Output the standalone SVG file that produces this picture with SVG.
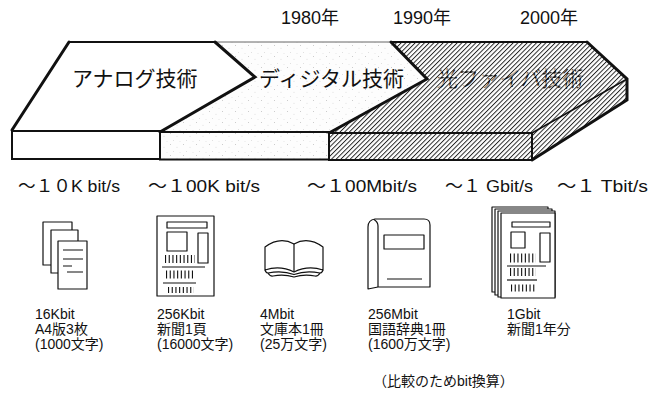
<svg xmlns="http://www.w3.org/2000/svg" width="657" height="393" viewBox="0 0 657 393">
  <style>
    .t { font-family: "Liberation Sans", "Noto Sans CJK JP", sans-serif; fill: #111; }
    .jp { font-family: "Noto Sans CJK JP", sans-serif; fill: #111; }
    .yr { font-size: 18px; }
    .sp { font-size: 17px; }
    .big { font-size: 21px; }
    .cap { font-size: 14px; }
    .ic { fill: #fff; stroke: #111; stroke-width: 1.2; stroke-linejoin: round; }
    .ln { fill: none; stroke: #111; stroke-width: 1.2; }
    .bars { fill: none; stroke: #111; stroke-dasharray: 1.1 2.6; }
    .thick { fill: none; stroke: #111; stroke-width: 3; stroke-linejoin: miter; stroke-linecap: round; }
    .mid { fill: none; stroke: #111; stroke-width: 2; stroke-linecap: round; }
    .thin { fill: none; stroke: #666; stroke-width: 1; }
  </style>
  <defs>
    <!-- diagonal hatch for the optical-fibre band -->
    <pattern id="hatch" patternUnits="userSpaceOnUse" width="3.3" height="10" patternTransform="rotate(45)">
      <rect width="3.3" height="10" fill="#fff"/>
      <rect width="0.95" height="10" fill="#222"/>
    </pattern>
    <!-- text ink broken by the hatch -->
    <pattern id="hatchInk" patternUnits="userSpaceOnUse" width="3.3" height="10" patternTransform="rotate(45)">
      <rect width="3.3" height="10" fill="#111"/>
      <rect x="2.2" width="0.9" height="10" fill="#fff"/>
    </pattern>
    <!-- light stipple for the digital band -->
    <pattern id="stipple" patternUnits="userSpaceOnUse" width="13" height="11">
      <rect width="13" height="11" fill="#fdfdfd"/>
      <circle cx="1.5" cy="1.5" r="0.45" fill="#999"/>
      <circle cx="8" cy="4.2" r="0.4" fill="#aaa"/>
      <circle cx="4.5" cy="8.6" r="0.4" fill="#aaa"/>
      <circle cx="11" cy="9.3" r="0.35" fill="#bbb"/>
    </pattern>
  </defs>

  <!-- year axis -->
  <g id="years">
    <text class="t yr" x="281" y="24">1980年</text>
    <text class="t yr" x="393" y="24">1990年</text>
    <text class="t yr" x="520" y="24">2000年</text>
  </g>

  <!-- technology band (3D slab) -->
  <g id="band-fibre">
    <polygon points="329,133 427,79 391,42 587,42 627,79 532,133" fill="url(#hatch)"/>
    <polygon points="532,133 627,79 627,100 532,160" fill="url(#hatch)"/>
    <rect x="329" y="133" width="203" height="27" fill="url(#hatch)" stroke="#111" stroke-width="2"/>
    <line x1="532" y1="133" x2="627" y2="79" stroke="#111" stroke-width="1.5"/>
    <polyline class="mid" points="391,42 587,42"/>
    <polyline class="thick" points="587,42 627,79 627,100 532,160"/>
    <text class="jp big" x="437" y="86" style="fill:url(#hatchInk)">光ファイバ技術</text>
  </g>
  <g id="band-digital">
    <polygon points="160,132 255,77 215,42 391,42 427,79 329,133" fill="url(#stipple)"/>
    <rect x="160" y="132" width="169" height="27.5" fill="url(#stipple)" stroke="#111" stroke-width="2"/>
    <line class="thin" x1="215" y1="42" x2="391" y2="42"/>
    <polyline class="thick" points="391,42 427,79 329,133"/>
    <text class="jp big" x="259" y="86">ディジタル技術</text>
  </g>
  <g id="band-analog">
    <polygon points="12,130 69,42 215,42 255,77 160,132" fill="#fff"/>
    <rect x="12" y="131" width="148" height="28" fill="#fff" stroke="#111" stroke-width="2"/>
    <polyline class="thick" points="12,130 69,42"/>
    <polyline class="mid" points="69,42 215,42"/>
    <polyline class="thick" points="215,42 255,77 160,132"/>
    <text class="jp big" x="72" y="86">アナログ技術</text>
  </g>

  <!-- transmission rates -->
  <g id="rates">
    <text class="t sp" x="18" y="192" textLength="102" lengthAdjust="spacingAndGlyphs">～１０K bit/s</text>
    <text class="t sp" x="148" y="192" textLength="112" lengthAdjust="spacingAndGlyphs">～１00K bit/s</text>
    <text class="t sp" x="307" y="192" textLength="110" lengthAdjust="spacingAndGlyphs">～１00Mbit/s</text>
    <text class="t sp" x="445" y="192" textLength="88" lengthAdjust="spacingAndGlyphs">～１ Gbit/s</text>
    <text class="t sp" x="557" y="192" textLength="91" lengthAdjust="spacingAndGlyphs">～１ Tbit/s</text>
  </g>

  <!-- A4 sheets -->
  <g id="icon-a4">
    <rect class="ic" x="43" y="222" width="29" height="43"/>
    <rect class="ic" x="51" y="230" width="27" height="43"/>
    <rect class="ic" x="58" y="241" width="29" height="48"/>
    <path class="ln" d="M63,250H83M63,259H83M63,266H72M67,272H83"/>
  </g>

  <!-- newspaper page -->
  <g id="icon-newspaper">
    <rect class="ic" x="157" y="216" width="57" height="80"/>
    <rect class="ic" x="167" y="222" width="40" height="6"/>
    <rect class="ic" x="167" y="232" width="20" height="19"/>
    <rect class="ic" x="198" y="233" width="10" height="30"/>
    <line class="bars" x1="165" y1="259" x2="195" y2="259" stroke-width="8"/>
    <line class="ln" x1="162" y1="267" x2="205" y2="267"/>
    <line class="bars" x1="166" y1="274.5" x2="194" y2="274.5" stroke-width="8"/>
    <line class="ln" x1="163" y1="283" x2="196" y2="283"/>
    <line class="bars" x1="168" y1="290" x2="194" y2="290" stroke-width="6"/>
  </g>

  <!-- paperback -->
  <g id="icon-paperback">
    <path class="ic" d="M294,244 Q280,236 265,247 L265,270 Q280,265 294,272 Q308,265 323,270 L323,247 Q308,236 294,244 Z"/>
    <path class="ln" d="M294,244V272 M265,270 Q266,273 268,273 Q282,270 294,274.5 Q306,270 320,273 Q322,273 323,270 M268,273 Q270,276.5 273,276 Q284,274 294,277 Q304,274 315,276 Q318,276.5 320,273"/>
  </g>

  <!-- dictionary -->
  <g id="icon-dictionary">
    <path class="ic" d="M368,289 L368,227 Q368,220 375,219 L424,219 Q430,219 430,225 L430,287 L378,287 Z"/>
    <path class="ln" d="M378,287 L378,226 Q378,222 374,219.5"/>
    <rect class="ic" x="384" y="235" width="40" height="14"/>
    <line class="ln" x1="387" y1="279" x2="422" y2="279"/>
  </g>

  <!-- a year of newspapers -->
  <g id="icon-newspaper-year">
    <rect class="ic" x="492" y="207" width="56" height="85"/>
    <rect class="ic" x="495" y="209" width="57" height="86"/>
    <rect class="ic" x="498" y="211" width="57" height="86"/>
    <rect class="ic" x="501" y="213" width="54" height="85"/>
    <rect class="ic" x="512" y="222" width="38" height="5"/>
    <rect class="ic" x="511" y="232" width="14" height="16"/>
    <rect class="ic" x="540" y="233" width="10" height="29"/>
    <line class="bars" x1="510" y1="258" x2="536" y2="258" stroke-width="9"/>
    <line class="ln" x1="507" y1="266" x2="546" y2="266"/>
    <line class="bars" x1="510" y1="272" x2="536" y2="272" stroke-width="8"/>
    <line class="ln" x1="507" y1="280" x2="537" y2="280"/>
    <line class="bars" x1="511" y1="288" x2="536" y2="288" stroke-width="7"/>
  </g>

  <!-- captions -->
  <g id="captions">
    <text class="t cap" x="35" y="319">16Kbit<tspan x="35" dy="15">A4版3枚</tspan><tspan x="35" dy="15">(1000文字)</tspan></text>
    <text class="t cap" x="157" y="319">256Kbit<tspan x="157" dy="15">新聞1頁</tspan><tspan x="157" dy="15">(16000文字)</tspan></text>
    <text class="t cap" x="260" y="319">4Mbit<tspan x="260" dy="15">文庫本1冊</tspan><tspan x="260" dy="15">(25万文字)</tspan></text>
    <text class="t cap" x="368" y="319">256Mbit<tspan x="368" dy="15">国語辞典1冊</tspan><tspan x="368" dy="15">(1600万文字)</tspan></text>
    <text class="t cap" x="507" y="319">1Gbit<tspan x="507" dy="15">新聞1年分</tspan></text>
    <text class="t cap" x="373" y="386">（比較のためbit換算）</text>
  </g>
</svg>
